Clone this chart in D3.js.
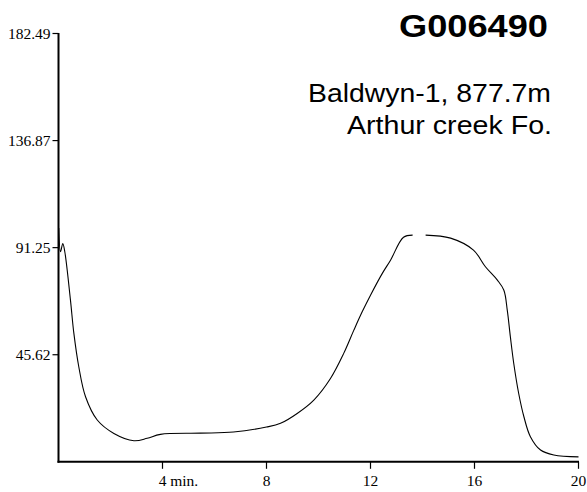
<!DOCTYPE html>
<html>
<head>
<meta charset="utf-8">
<script src="https://cdn.jsdelivr.net/npm/d3@7"></script>
<style>
  html, body { margin: 0; padding: 0; background: #fff; }
  svg { display: block; }
</style>
</head>
<body>
<svg id="chart" width="587" height="492"></svg>
<script>
// ---- data ----
const time = [0.01, 0.077, 0.165, 0.242, 0.46, 0.59, 0.78, 1.04, 1.49, 2.13, 2.90, 3.41, 3.92, 5.46, 6.73, 8.0,
  8.54, 9.18, 9.82, 10.46, 10.97, 11.36, 11.68, 12.0, 12.46, 12.77, 13.27, 13.62, 13.87, 14.12, 15.08, 15.96,
  16.42, 16.88, 17.13, 17.26, 17.38, 17.51, 17.70, 17.90, 18.15, 18.54, 19.05, 20.0];
const signal = [99.6, 89.5, 93.0, 89.5, 68.9, 54.8, 40.5, 27.7, 17.8, 12.1, 9.0, 10.0, 11.7, 12.2, 12.7, 14.8,
  16.4, 20.6, 26.3, 35.5, 46.2, 56.1, 63.9, 71.0, 80.4, 85.9, 95.7, 96.6, null, 96.6, 95.3, 90.2,
  83.1, 77.4, 73.1, 64.6, 53.2, 41.9, 29.1, 19.2, 10.7, 5.0, 2.9, 2.1];
const xTicks = [4, 8, 12, 16, 20];
const xTickLabels = ["4", "8", "12", "16", "20"];
const xUnit = " min.";
const yTicks = [45.62, 91.25, 136.87, 182.49];
const yTickLabels = ["45.62", "91.25", "136.87", "182.49"];
const title = "G006490";
const subtitle1 = "Baldwyn-1, 877.7m";
const subtitle2 = "Arthur creek Fo.";

// ---- layout ----
const svg = d3.select("#chart");
const x = d3.scaleLinear().domain([0, 20]).range([58.5, 578.5]);
const y = d3.scaleLinear().domain([0, 182.49]).range([461.8, 33.5]);
const tickFont = "'Liberation Serif', 'Times New Roman', serif";
const tickSize = 15.5;

// curve
const pts = time.map((t, i) => ({t, v: signal[i]}));
const line = d3.line()
  .defined(d => d.v !== null)
  .x(d => x(d.t))
  .y(d => y(d.v))
  .curve(d3.curveCatmullRom.alpha(0.5));
svg.append("path")
  .datum(pts)
  .attr("d", line)
  .attr("fill", "none")
  .attr("stroke", "#000")
  .attr("stroke-width", 1.1);

// x axis
const xg = svg.append("g");
xg.append("line")
  .attr("x1", x(0) - 1).attr("x2", x(20) + 0.5)
  .attr("y1", y(0)).attr("y2", y(0))
  .attr("stroke", "#000").attr("stroke-width", 2);
xTicks.forEach((v, i) => {
  xg.append("line")
    .attr("x1", x(v)).attr("x2", x(v))
    .attr("y1", y(0)).attr("y2", y(0) + 7)
    .attr("stroke", "#000").attr("stroke-width", 1.2);
  const txt = xg.append("text")
    .attr("y", 485.5)
    .attr("font-family", tickFont)
    .attr("font-size", tickSize)
    .attr("fill", "#000");
  txt.append("tspan").text(xTickLabels[i]);
  let numW = txt.node().getComputedTextLength();
  if (i === 0) txt.append("tspan").text(xUnit);
  txt.attr("x", x(v) - numW / 2).attr("xml:space", "preserve").style("white-space", "pre");
});

// y axis
const yg = svg.append("g");
yg.append("line")
  .attr("x1", x(0)).attr("x2", x(0))
  .attr("y1", y(182.49) - 0.5).attr("y2", y(0) + 1)
  .attr("stroke", "#000").attr("stroke-width", 2);
yTicks.forEach((v, i) => {
  yg.append("line")
    .attr("x1", x(0) - 6).attr("x2", x(0))
    .attr("y1", y(v)).attr("y2", y(v))
    .attr("stroke", "#000").attr("stroke-width", 1.2);
  yg.append("text")
    .attr("x", x(0) - 8)
    .attr("y", y(v) + 5)
    .attr("text-anchor", "end")
    .attr("font-family", tickFont)
    .attr("font-size", tickSize)
    .attr("fill", "#000")
    .text(yTickLabels[i]);
});

// titles
const sans = "'Liberation Sans', Arial, Helvetica, sans-serif";
svg.append("text")
  .attr("x", 548).attr("y", 36.5)
  .attr("text-anchor", "end")
  .attr("font-family", sans).attr("font-weight", "bold").attr("font-size", 32)
  .attr("textLength", 149).attr("lengthAdjust", "spacingAndGlyphs")
  .text(title);
svg.append("text")
  .attr("x", 551).attr("y", 101.7)
  .attr("text-anchor", "end")
  .attr("font-family", sans).attr("font-size", 25.5)
  .attr("textLength", 243).attr("lengthAdjust", "spacingAndGlyphs")
  .text(subtitle1);
svg.append("text")
  .attr("x", 552).attr("y", 134.3)
  .attr("text-anchor", "end")
  .attr("font-family", sans).attr("font-size", 25.5)
  .attr("textLength", 205).attr("lengthAdjust", "spacingAndGlyphs")
  .text(subtitle2);
</script>
</body>
</html>
